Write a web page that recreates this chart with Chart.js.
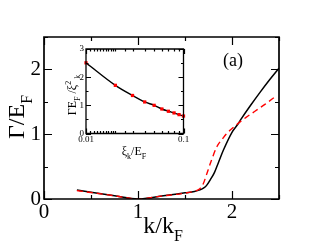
<!DOCTYPE html>
<html>
<head>
<meta charset="utf-8">
<script src="https://cdn.jsdelivr.net/npm/chart.js@4.4.1/dist/chart.umd.min.js"></script>
<style>
  html, body { margin: 0; padding: 0; background: #fff; }
  #wrap { position: relative; width: 316px; height: 244px; }
  #main { position: absolute; left: 0; top: 0; }
  #inset { position: absolute; left: 50px; top: 40px; }
</style>
</head>
<body>
<div id="wrap">
  <canvas id="main" width="316" height="244"></canvas>
  <canvas id="inset" width="145" height="125"></canvas>
</div>
<script>
// main panel: Gamma/E_F against k/k_F
const kBlack = [0.35, 0.5, 0.75, 1.0, 1.25, 1.5, 1.6, 1.66, 1.7, 1.73, 1.77, 1.81, 1.86, 1.91, 2.0, 2.06, 2.1, 2.2, 2.3, 2.4, 2.5];
const gBlack = [0.14, 0.105, 0.05, 0.0, 0.045, 0.095, 0.115, 0.14, 0.17, 0.21, 0.3, 0.40, 0.58, 0.76, 1.03, 1.15, 1.24, 1.45, 1.65, 1.84, 2.02];
const kRed = [0.35, 0.5, 0.75, 1.0, 1.25, 1.5, 1.6, 1.65, 1.69, 1.73, 1.77, 1.84, 1.9, 1.95, 2.06, 2.15, 2.24, 2.35, 2.47];
const gRed = [0.13, 0.1, 0.05, 0.0, 0.045, 0.09, 0.12, 0.15, 0.22, 0.38, 0.55, 0.81, 0.93, 1.02, 1.16, 1.26, 1.35, 1.46, 1.59];

// inset: Gamma E_F / xi_k^2 against xi_k/E_F (log x)
const xiInset = [0.01, 0.02, 0.03, 0.04, 0.05, 0.06, 0.07, 0.08, 0.09, 0.1];
const ratioInset = [2.51, 1.71, 1.35, 1.12, 1.0, 0.87, 0.79, 0.73, 0.67, 0.62];

const serif = "'Liberation Serif', serif";
Chart.defaults.font.family = serif;
Chart.defaults.color = '#000';

const pts = (xs, ys) => xs.map((x, i) => ({ x: x, y: ys[i] }));

// writes text with sub/superscripts, parts = [[text, 'sub'|'sup'|''], ...]
function richText(ctx, parts, x, y, size) {
    const small = Math.round(size * 0.68);
    const widths = [];
    let total = 0;
    parts.forEach(p => {
        ctx.font = (p[1] ? small : size) + 'px ' + serif;
        const w = ctx.measureText(p[0]).width;
        widths.push(w);
        total += w;
    });
    let cx = x - total / 2;
    ctx.textAlign = 'left';
    ctx.textBaseline = 'alphabetic';
    parts.forEach((p, i) => {
        ctx.font = (p[1] ? small : size) + 'px ' + serif;
        let dy = 0;
        if (p[1] === 'sub') dy = size * 0.32;
        if (p[1] === 'sup') dy = -size * 0.42;
        ctx.fillText(p[0], cx, y + dy);
        cx += widths[i];
    });
}

// frame plus inward ticks on all four sides
function frameTicks(major, minor, isMajor, lw) {
    return {
        id: 'frameTicks',
        afterDatasetsDraw(chart) {
            const a = chart.chartArea, ctx = chart.ctx;
            const sx = chart.scales.x, sy = chart.scales.y;
            ctx.save();
            ctx.strokeStyle = '#000';
            ctx.lineWidth = lw;
            ctx.beginPath();
            ctx.rect(a.left, a.top, a.right - a.left, a.bottom - a.top);
            ctx.stroke();
            ctx.lineWidth = 1.2;
            ctx.beginPath();
            sx.ticks.forEach(t => {
                const px = Math.round(sx.getPixelForValue(t.value)) + 0.5;
                const len = isMajor(t.value, 'x') ? major : minor;
                ctx.moveTo(px, a.bottom); ctx.lineTo(px, a.bottom - len);
                ctx.moveTo(px, a.top); ctx.lineTo(px, a.top + len);
            });
            sy.ticks.forEach(t => {
                const py = Math.round(sy.getPixelForValue(t.value)) + 0.5;
                const len = isMajor(t.value, 'y') ? major : minor;
                ctx.moveTo(a.left, py); ctx.lineTo(a.left + len, py);
                ctx.moveTo(a.right, py); ctx.lineTo(a.right - len, py);
            });
            ctx.stroke();
            ctx.restore();
        }
    };
}

const mainLabels = {
    id: 'mainLabels',
    afterDraw(chart) {
        const ctx = chart.ctx;
        ctx.save();
        ctx.fillStyle = '#000';
        richText(ctx, [['k/k', ''], ['F', 'sub']], 163, 233, 24);
        ctx.translate(24, 117);
        ctx.rotate(-Math.PI / 2);
        richText(ctx, [['Γ/E', ''], ['F', 'sub']], 0, 0, 24);
        ctx.restore();
        ctx.save();
        ctx.fillStyle = '#000';
        ctx.font = '18px ' + serif;
        ctx.textAlign = 'center';
        ctx.textBaseline = 'middle';
        ctx.fillText('(a)', 233, 61);
        ctx.restore();
    }
};

new Chart(document.getElementById('main'), {
    type: 'line',
    data: {
        datasets: [
            {
                data: pts(kRed, gRed),
                borderColor: '#ff0000',
                borderWidth: 1.4,
                borderDash: [6, 4],
                pointRadius: 0,
                cubicInterpolationMode: 'monotone',
                order: 0
            },
            {
                data: pts(kBlack, gBlack),
                borderColor: '#000000',
                borderWidth: 1.5,
                pointRadius: 0,
                cubicInterpolationMode: 'monotone',
                order: 1
            }
        ]
    },
    options: {
        responsive: false,
        animation: false,
        layout: { padding: { top: 37, right: 37, left: 0, bottom: 0 } },
        plugins: { legend: { display: false }, tooltip: { enabled: false } },
        scales: {
            x: {
                type: 'linear',
                min: 0, max: 2.5,
                grid: { display: false, drawTicks: false },
                border: { display: false },
                ticks: {
                    stepSize: 0.5,
                    autoSkip: false,
                    maxRotation: 0,
                    padding: 1,
                    color: '#000',
                    font: { family: serif, size: 21 },
                    callback: v => (Math.abs(v % 1) < 1e-6 ? String(v) : '')
                },
                afterFit: s => { s.height = 45; }
            },
            y: {
                min: 0, max: 2.5,
                grid: { display: false, drawTicks: false },
                border: { display: false },
                ticks: {
                    stepSize: 0.5,
                    autoSkip: false,
                    padding: 3,
                    color: '#000',
                    font: { family: serif, size: 21 },
                    callback: v => (Math.abs(v % 1) < 1e-6 ? String(v) : '')
                },
                afterFit: s => { s.width = 44; }
            }
        }
    },
    plugins: [frameTicks(8, 4, v => Math.abs(v % 1) < 1e-6, 1.7), mainLabels]
});

const insetLabels = {
    id: 'insetLabels',
    afterDraw(chart) {
        const ctx = chart.ctx;
        ctx.save();
        ctx.fillStyle = '#000';
        richText(ctx, [['ξ', ''], ['k', 'sub'], ['/E', ''], ['F', 'sub']], 84, 115, 12);
        ctx.translate(26, 55);
        ctx.rotate(-Math.PI / 2);
        richText(ctx, [['ΓE', ''], ['F', 'sub'], [' /ξ', ''], ['2', 'sup'], [' k', 'sub']], 0, 0, 12);
        ctx.restore();
    }
};

const isDecade = v => Math.abs(Math.log10(v) - Math.round(Math.log10(v))) < 1e-6;

new Chart(document.getElementById('inset'), {
    type: 'line',
    data: {
        datasets: [
            {
                data: pts(xiInset, ratioInset),
                showLine: false,
                pointStyle: 'rect',
                pointRadius: 2.3,
                pointBackgroundColor: '#ff0000',
                pointBorderColor: '#ff0000',
                pointBorderWidth: 0,
                clip: false,
                order: 0
            },
            {
                data: pts(xiInset, ratioInset),
                borderColor: '#000000',
                borderWidth: 1.4,
                pointRadius: 0,
                cubicInterpolationMode: 'monotone',
                order: 1
            }
        ]
    },
    options: {
        responsive: false,
        animation: false,
        layout: { padding: { top: 9, right: 11.5, left: 0, bottom: 0 } },
        plugins: { legend: { display: false }, tooltip: { enabled: false } },
        scales: {
            x: {
                type: 'logarithmic',
                min: 0.01, max: 0.1,
                grid: { display: false, drawTicks: false },
                border: { display: false },
                ticks: {
                    autoSkip: false,
                    maxRotation: 0,
                    padding: 1,
                    color: '#000',
                    font: { family: serif, size: 9 },
                    callback: v => (isDecade(v) ? String(Number(v.toPrecision(3))) : '')
                },
                afterFit: s => { s.height = 31.5; }
            },
            y: {
                min: 0, max: 3,
                grid: { display: false, drawTicks: false },
                border: { display: false },
                ticks: {
                    stepSize: 0.5,
                    autoSkip: false,
                    padding: 2,
                    color: '#000',
                    font: { family: serif, size: 9 },
                    callback: v => (Math.abs(v % 1) < 1e-6 ? String(v) : '')
                },
                afterFit: s => { s.width = 36; }
            }
        }
    },
    plugins: [frameTicks(5, 2.5, (v, ax) => (ax === 'x' ? isDecade(v) : Math.abs(v % 1) < 1e-6), 1.3), insetLabels]
});
</script>
</body>
</html>
